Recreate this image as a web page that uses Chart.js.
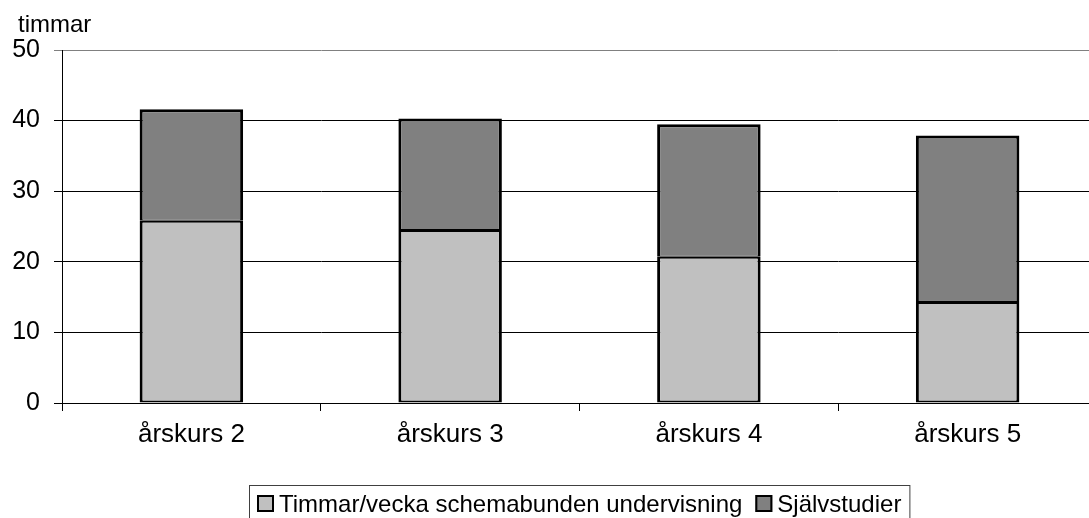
<!DOCTYPE html>
<html>
<head>
<meta charset="utf-8">
<script src="https://cdn.jsdelivr.net/npm/chart.js@4"></script>
<style>
  body { margin: 0; background: #fff; overflow: hidden; }
  #wrap { width: 1100px; height: 518px; }
</style>
</head>
<body>
<div id="wrap"><canvas id="chart" width="1100" height="518"></canvas></div>
<script>
const categories = ['årskurs 2', 'årskurs 3', 'årskurs 4', 'årskurs 5'];
const schemalagd = [25.8, 24.5, 20.7, 14.3];
const sjalvstudier = [15.8, 15.8, 18.8, 23.6];
const yTicks = [0, 10, 20, 30, 40, 50];
const seriesNames = ['Timmar/vecka schemabunden undervisning', 'Självstudier'];
const seriesColors = ['#c0c0c0', '#808080'];
const yTitle = 'timmar';

const FONT = '"Liberation Sans", Arial, sans-serif';

// axis title in the top left corner + excel style legend box below the plot
const extras = {
  id: 'extras',
  afterDraw(chart) {
    const ctx = chart.ctx;
    ctx.save();
    ctx.fillStyle = '#000';
    ctx.font = '24px ' + FONT;
    ctx.textBaseline = 'alphabetic';
    ctx.textAlign = 'left';
    ctx.fillText(yTitle, 18, 32);

    // legend
    const sq = 17, gapText = 5, gapItem = 13, pad = 8;
    const items = chart.data.datasets.map(ds => ({
      text: ds.label, color: ds.backgroundColor, w: ctx.measureText(ds.label).width
    }));
    let total = pad * 2;
    items.forEach((it, i) => { total += sq + gapText + it.w + (i ? gapItem : 0); });
    const area = chart.chartArea;
    const left = Math.round((area.left + area.right) / 2 - total / 2);
    const top = 485;
    ctx.strokeStyle = '#404040';
    ctx.lineWidth = 1;
    ctx.strokeRect(left + 0.5, top + 0.5, total, 60);
    let x = left + pad;
    items.forEach((it, i) => {
      if (i) x += gapItem;
      ctx.fillStyle = it.color;
      ctx.fillRect(x, 495, sq, sq);
      ctx.strokeStyle = '#000';
      ctx.lineWidth = 2;
      ctx.strokeRect(x + 1, 496, sq - 2, sq - 2);
      x += sq + gapText;
      ctx.fillStyle = '#000';
      ctx.fillText(it.text, x, 512);
      x += it.w;
    });
    ctx.restore();
  }
};

new Chart(document.getElementById('chart'), {
  type: 'bar',
  data: {
    labels: categories,
    datasets: [
      {
        label: seriesNames[0], data: schemalagd, backgroundColor: seriesColors[0],
        borderWidth: { top: 2, left: 3, right: 3, bottom: 2 }
      },
      {
        label: seriesNames[1], data: sjalvstudier, backgroundColor: seriesColors[1],
        borderWidth: { top: 3, left: 3, right: 3, bottom: 1 }
      }
    ]
  },
  options: {
    responsive: false,
    animation: false,
    devicePixelRatio: 1,
    layout: { padding: { top: 50, right: 3, left: 0, bottom: 0 } },
    datasets: {
      bar: {
        borderColor: '#000',
        borderSkipped: false,
        inflateAmount: 0,
        categoryPercentage: 1,
        barPercentage: 0.4
      }
    },
    plugins: {
      legend: { display: false },
      tooltip: { enabled: false }
    },
    scales: {
      x: {
        stacked: true,
        afterFit: s => { s.height = 115; },
        grid: { offset: true, drawOnChartArea: false, drawTicks: true, tickLength: 8, color: '#000' },
        border: { color: '#000' },
        ticks: { color: '#000', font: { family: FONT, size: 26 }, padding: 8, maxRotation: 0 }
      },
      y: {
        stacked: true,
        min: 0,
        max: 50,
        afterFit: s => { s.width = 62; },
        afterBuildTicks: s => { s.ticks = yTicks.map(v => ({ value: v })); },
        grid: {
          color: c => (c.tick && c.tick.value === 50 ? '#808080' : '#000'),
          tickLength: 8
        },
        border: { color: '#000' },
        ticks: { color: '#000', font: { family: FONT, size: 25 }, padding: 14 }
      }
    }
  },
  plugins: [extras]
});
</script>
</body>
</html>
